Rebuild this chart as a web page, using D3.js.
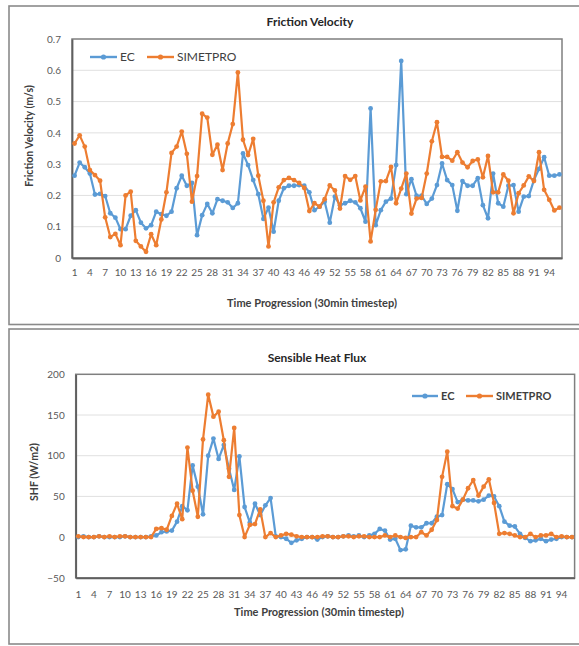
<!DOCTYPE html>
<html>
<head>
<meta charset="utf-8">
<script src="https://cdn.jsdelivr.net/npm/d3@7/dist/d3.min.js"></script>
<style>
  html, body { margin: 0; padding: 0; background: #ffffff; }
  svg { display: block; font-family: Lato, "Open Sans", "Liberation Sans", sans-serif; }
</style>
</head>
<body>
<svg id="chart" width="579" height="646"></svg>
<script>
// Half-hour timesteps shown on both category axes
const timesteps = d3.range(1, 97);
const stepTickLabels = [1, 4, 7, 10, 13, 16, 19, 22, 25, 28, 31, 34, 37, 40, 43, 46, 49, 52, 55, 58, 61, 64, 67, 70, 73, 76, 79, 82, 85, 88, 91, 94];

// Friction velocity (m/s)
const ustarEC = [
  0.263, 0.305, 0.290, 0.270, 0.203, 0.205, 0.198, 0.143, 0.129, 0.092,
  0.092, 0.135, 0.153, 0.113, 0.095, 0.105, 0.148, 0.140, 0.135, 0.148,
  0.223, 0.263, 0.231, 0.240, 0.073, 0.137, 0.173, 0.143, 0.188, 0.183,
  0.178, 0.160, 0.175, 0.334, 0.297, 0.249, 0.204, 0.125, 0.161, 0.084,
  0.183, 0.223, 0.231, 0.231, 0.233, 0.231, 0.210, 0.153, 0.164, 0.180,
  0.113, 0.196, 0.169, 0.175, 0.183, 0.178, 0.159, 0.116, 0.478, 0.105,
  0.153, 0.180, 0.190, 0.297, 0.630, 0.204, 0.252, 0.199, 0.199, 0.173,
  0.190, 0.233, 0.302, 0.249, 0.233, 0.151, 0.246, 0.231, 0.231, 0.255,
  0.169, 0.127, 0.270, 0.175, 0.164, 0.231, 0.233, 0.148, 0.196, 0.198,
  0.249, 0.285, 0.322, 0.263, 0.263, 0.267
];
const ustarSIMETPRO = [
  0.366, 0.392, 0.356, 0.281, 0.265, 0.247, 0.130, 0.067, 0.077, 0.041,
  0.200, 0.212, 0.055, 0.037, 0.020, 0.076, 0.041, 0.123, 0.210, 0.336,
  0.356, 0.404, 0.333, 0.180, 0.262, 0.461, 0.449, 0.330, 0.362, 0.281,
  0.366, 0.428, 0.593, 0.378, 0.329, 0.381, 0.263, 0.183, 0.037, 0.178,
  0.226, 0.249, 0.256, 0.249, 0.240, 0.224, 0.150, 0.175, 0.164, 0.188,
  0.232, 0.216, 0.158, 0.262, 0.250, 0.262, 0.184, 0.228, 0.053, 0.154,
  0.245, 0.246, 0.291, 0.175, 0.222, 0.270, 0.142, 0.190, 0.192, 0.270,
  0.373, 0.434, 0.323, 0.323, 0.311, 0.338, 0.305, 0.290, 0.310, 0.315,
  0.258, 0.326, 0.210, 0.210, 0.267, 0.247, 0.143, 0.207, 0.232, 0.261,
  0.246, 0.338, 0.218, 0.186, 0.152, 0.161
];
const ustarTicks = [0, 0.1, 0.2, 0.3, 0.4, 0.5, 0.6, 0.7];

// Sensible heat flux (W/m2)
const shfEC = [
  0, 1, 0, 0, 1, 0, 0, 0, 0, 1,
  0, 0, 0, 0, 1, 2, 6, 7, 8, 19,
  38, 33, 88, 62, 28, 100, 121, 96, 113, 84,
  58, 99, 37, 18, 41, 27, 39, 48, 1, 0,
  -2, -7, -4, -2, 0, 0, -3, 0, 1, 0,
  0, 1, 2, 1, 2, 0, 2, 4, 10, 8,
  -3, -2, -16, -15, 14, 12, 12, 17, 17, 25,
  27, 65, 59, 43, 46, 45, 45, 44, 46, 51,
  50, 38, 19, 14, 13, 4, -1, -5, -4, -2,
  -5, -3, -2, 0, 0, 0
];
const shfSIMETPRO = [
  1, 0, 0, 0, 1, 0, 1, 0, 1, 1,
  0, 0, 0, 0, 0, 10, 11, 9, 26, 41,
  22, 110, 57, 25, 120, 175, 148, 154, 119, 74,
  134, 27, 0, 15, 16, 34, 0, 5, 0, 2,
  4, 3, 1, 0, 0, 0, 0, 1, 1, 0,
  0, 1, 1, 0, 1, 1, 0, 0, 0, 2,
  0, 2, 0, -1, 0, 0, 6, 2, 9, 21,
  74, 105, 38, 35, 46, 60, 70, 51, 62, 71,
  42, 4, 5, 4, 2, 0, 0, 4, 0, 2,
  2, 4, 0, 1, 0, 0
];
const shfTicks = [-50, 0, 50, 100, 150, 200];

const seriesNames = ["EC", "SIMETPRO"];
const seriesColors = ["#5b9bd5", "#ed7d31"];

const svg = d3.select("#chart");
svg.append("rect").attr("width", 579).attr("height", 646).attr("fill", "#ffffff");

function drawPanel(opt) {
  const g = svg.append("g");

  // outer chart frame (runs past the right edge)
  g.append("rect")
    .attr("x", opt.frame[0]).attr("y", opt.frame[1])
    .attr("width", opt.frame[2]).attr("height", opt.frame[3])
    .attr("fill", "none").attr("stroke", "#8a8a8a").attr("stroke-width", 1.6);

  const x = d3.scaleBand().domain(timesteps).range([opt.left, opt.right]).paddingInner(0).paddingOuter(0);
  const y = d3.scaleLinear().domain(opt.yDomain).range([opt.bottom, opt.top]);
  const cx = d => x(d) + x.bandwidth() / 2;

  // horizontal gridlines
  g.append("g").selectAll("line")
    .data(opt.yTicks.filter(t => t !== opt.yDomain[0] && t !== opt.yDomain[1]))
    .join("line")
    .attr("x1", opt.left).attr("x2", opt.right)
    .attr("y1", d => y(d)).attr("y2", d => y(d))
    .attr("stroke", "#e0e0e0").attr("stroke-width", 1);

  // plot area border
  g.append("rect")
    .attr("x", opt.left).attr("y", opt.top)
    .attr("width", opt.right - opt.left).attr("height", opt.bottom - opt.top)
    .attr("fill", "none").attr("stroke", "#7f7f7f").attr("stroke-width", 1.5);

  // y axis
  const yAxis = g.append("g")
    .attr("transform", `translate(${opt.left},0)`)
    .call(d3.axisLeft(y).tickValues(opt.yTicks).tickSize(0).tickPadding(opt.yPad).tickFormat(opt.yFormat));
  yAxis.select(".domain").attr("stroke", "#5f5f5f").attr("stroke-width", 1.8);
  yAxis.selectAll("text").attr("fill", "#595959").style("font-size", "10px")
    .style("font-family", "Lato, 'Open Sans', sans-serif");

  // x axis
  const xAxis = g.append("g")
    .attr("transform", `translate(0,${opt.bottom})`)
    .call(d3.axisBottom(x).tickValues(stepTickLabels).tickSize(0).tickPadding(opt.xPad));
  xAxis.select(".domain").attr("stroke", "#5f5f5f").attr("stroke-width", 1.8);
  xAxis.selectAll("text").attr("fill", "#595959").style("font-size", "10px")
    .style("font-family", "Lato, 'Open Sans', sans-serif");

  // series lines and markers
  opt.series.forEach((vals, si) => {
    const pts = timesteps.map((t, i) => [t, vals[i]]);
    g.append("path")
      .datum(pts)
      .attr("fill", "none")
      .attr("stroke", seriesColors[si])
      .attr("stroke-width", 2.2)
      .attr("stroke-linejoin", "round")
      .attr("d", d3.line().x(d => cx(d[0])).y(d => y(d[1])));
    g.append("g").selectAll("circle")
      .data(pts).join("circle")
      .attr("cx", d => cx(d[0])).attr("cy", d => y(d[1]))
      .attr("r", 2.4).attr("fill", seriesColors[si]);
  });

  // titles
  g.append("text")
    .attr("x", opt.titlePos[0]).attr("y", opt.titlePos[1])
    .attr("text-anchor", "middle").attr("font-weight", "bold")
    .style("font-size", "12px").attr("fill", "#262626")
    .text(opt.title);
  g.append("text")
    .attr("x", opt.xTitlePos[0]).attr("y", opt.xTitlePos[1])
    .attr("text-anchor", "middle").attr("font-weight", "bold")
    .style("font-size", "11px").attr("fill", "#404040")
    .text("Time Progression (30min timestep)");
  g.append("text")
    .attr("transform", `translate(${opt.yTitlePos[0]},${opt.yTitlePos[1]}) rotate(-90)`)
    .attr("text-anchor", "middle").attr("font-weight", "bold")
    .style("font-size", opt.yTitleSize).attr("fill", "#404040")
    .text(opt.yTitle);

  // legend
  const lg = g.append("g");
  seriesNames.forEach((name, si) => {
    const [x0, x1, tx] = opt.legend.items[si];
    lg.append("line")
      .attr("x1", x0).attr("x2", x1)
      .attr("y1", opt.legend.y).attr("y2", opt.legend.y)
      .attr("stroke", seriesColors[si]).attr("stroke-width", 2.4);
    lg.append("circle")
      .attr("cx", (x0 + x1) / 2).attr("cy", opt.legend.y)
      .attr("r", 2.6).attr("fill", seriesColors[si]);
    lg.append("text")
      .attr("x", tx).attr("y", opt.legend.y).attr("dy", "0.36em")
      .attr("font-weight", opt.legend.weight)
      .style("font-size", opt.legend.size).attr("fill", "#404040")
      .text(name);
  });
}

drawPanel({
  frame: [9, 6, 600, 318.5],
  left: 72, right: 562, top: 39, bottom: 258,
  yDomain: [0, 0.7], yTicks: ustarTicks, yFormat: d => d === 0 ? "0" : d3.format(".1f")(d),
  yPad: 11, xPad: 11,
  series: [ustarEC, ustarSIMETPRO],
  title: "Friction Velocity", titlePos: [310, 26],
  xTitlePos: [312, 307],
  yTitle: "Friction Velocity (m/s)", yTitlePos: [33, 136], yTitleSize: "10.5px",
  legend: { y: 57, items: [[90, 117, 120], [147, 174, 177]], size: "12px", weight: "normal" }
});

drawPanel({
  frame: [9, 329, 600, 315],
  left: 75.7, right: 574.6, top: 374.3, bottom: 577.8,
  yDomain: [-50, 200], yTicks: shfTicks, yFormat: d3.format("d"),
  yPad: 11, xPad: 13,
  series: [shfEC, shfSIMETPRO],
  title: "Sensible Heat Flux", titlePos: [317, 362],
  xTitlePos: [319, 616],
  yTitle: "SHF (W/m2)", yTitlePos: [38, 472], yTitleSize: "10.5px",
  legend: { y: 396, items: [[412, 438, 441], [466, 493, 496]], size: "11px", weight: "bold" }
});
</script>
</body>
</html>
